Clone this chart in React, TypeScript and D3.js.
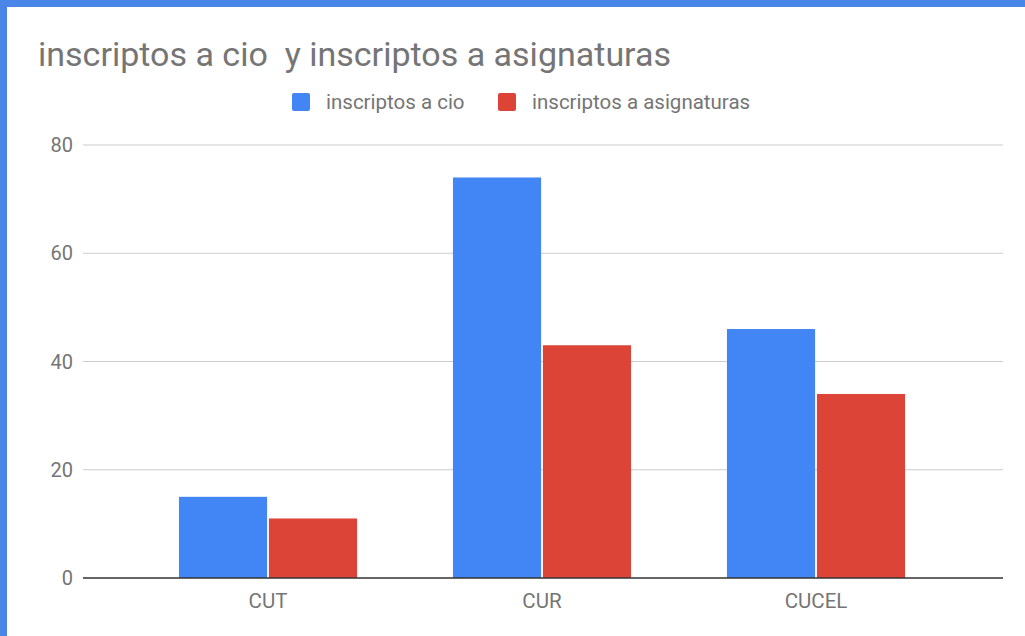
import React from "react";
import * as d3 from "d3";

const categories: string[] = ["CUT", "CUR", "CUCEL"];
const seriesNames: string[] = ["inscriptos a cio", "inscriptos a asignaturas"];
const cioValues: number[] = [15, 74, 46];
const asignaturasValues: number[] = [11, 43, 34];
const yTicks: number[] = [0, 20, 40, 60, 80];

const colors = ["#4285F4", "#DB4437"];

const width = 1025;
const height = 636;

const App: React.FC = () => {
  const xScale = d3
    .scaleBand<string>()
    .domain(categories)
    .range([131, 953])
    .paddingInner(0.35)
    .paddingOuter(0.175);

  const inner = d3
    .scaleBand<number>()
    .domain([0, 1])
    .range([0, xScale.bandwidth()])
    .paddingInner(0.02);

  const yScale = d3.scaleLinear().domain([0, 80]).range([578, 145]);

  const series = [cioValues, asignaturasValues];

  return (
    <svg
      width={width}
      height={height}
      style={{ position: "absolute", top: 0, left: 0, fontFamily: "Roboto, sans-serif" }}
    >
      <rect x={0} y={0} width={width} height={height} fill="#4a86e8" />
      <rect x={7} y={7} width={width - 7} height={height - 7} fill="#ffffff" />

      <text x={38} y={66} fontSize={34} fill="#757575">
        inscriptos a cio{"\u00a0"} y inscriptos a asignaturas
      </text>

      {/* legend */}
      <g>
        <rect x={292} y={93} width={18} height={18} rx={2} fill={colors[0]} />
        <text x={326} y={109} fontSize={20.5} fill="#757575">
          {seriesNames[0]}
        </text>
        <rect x={498} y={93} width={18} height={18} rx={2} fill={colors[1]} />
        <text x={532} y={109} fontSize={20.5} fill="#757575">
          {seriesNames[1]}
        </text>
      </g>

      {/* gridlines + y labels */}
      {yTicks.map((t) => (
        <g key={t}>
          {t !== 0 && (
            <line x1={83} x2={1003} y1={yScale(t)} y2={yScale(t)} stroke="#cccccc" strokeWidth={1} />
          )}
          <text x={73} y={yScale(t) + 7} fontSize={20} fill="#757575" textAnchor="end">
            {t}
          </text>
        </g>
      ))}

      {/* bars */}
      {categories.map((c, i) => (
        <g key={c} transform={`translate(${xScale(c)},0)`}>
          {series.map((s, j) => (
            <rect
              key={j}
              x={inner(j)}
              y={yScale(s[i])}
              width={inner.bandwidth()}
              height={yScale(0) - yScale(s[i])}
              fill={colors[j]}
            />
          ))}
          <text
            x={xScale.bandwidth() / 2}
            y={608}
            fontSize={20.5}
            fill="#757575"
            textAnchor="middle"
          >
            {c}
          </text>
        </g>
      ))}

      <line x1={83} x2={1003} y1={yScale(0)} y2={yScale(0)} stroke="#333333" strokeWidth={1.5} />
    </svg>
  );
};

export default App;
